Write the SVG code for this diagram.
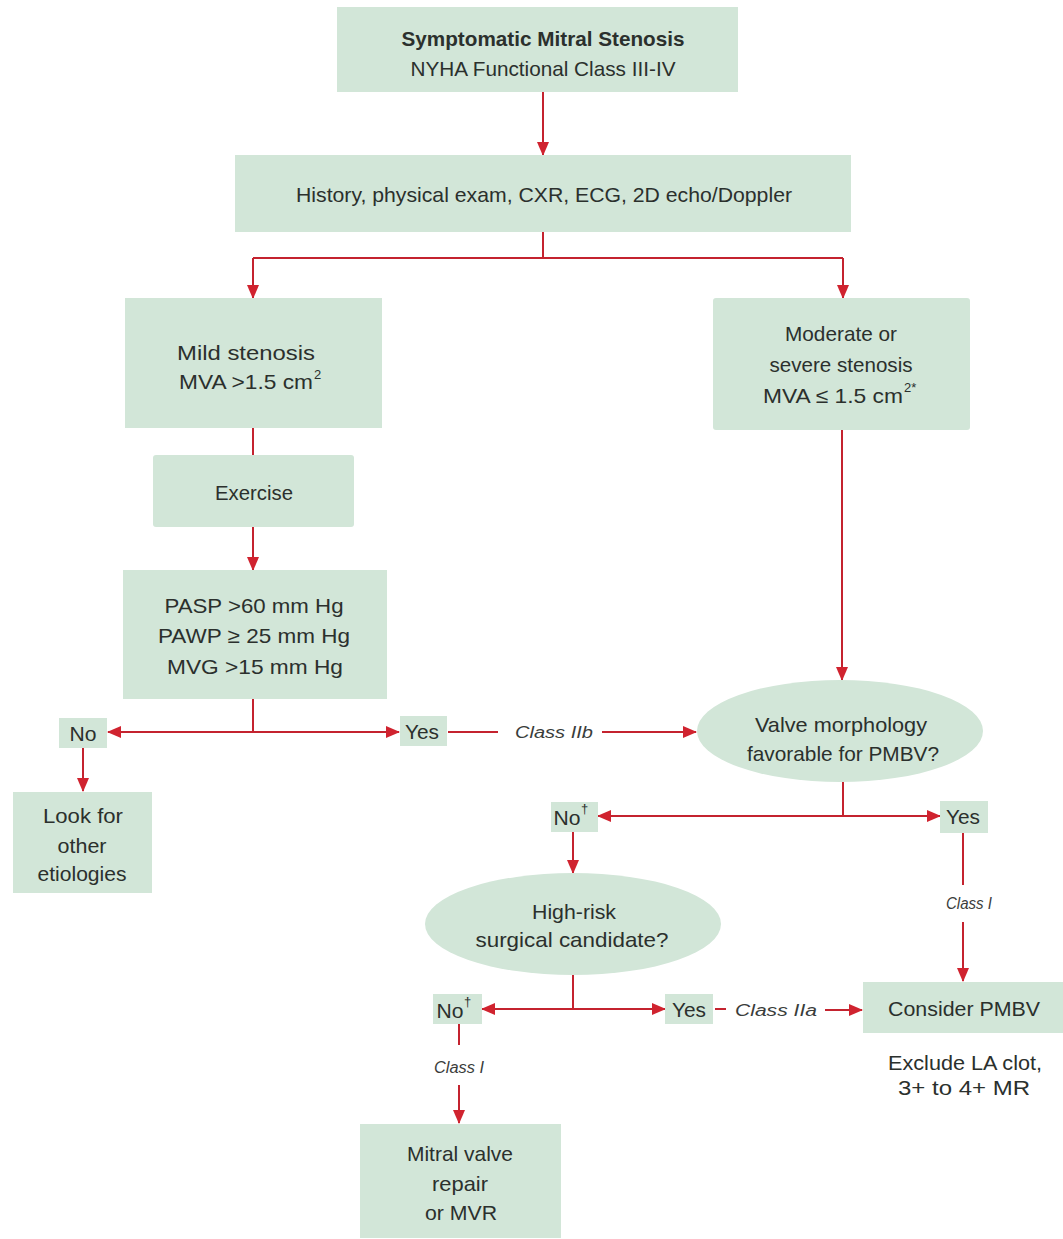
<svg xmlns="http://www.w3.org/2000/svg" width="1063" height="1239" viewBox="0 0 1063 1239">
  <style>
    .box { fill: #d2e6d8; }
    .t { font-family: "Liberation Sans", Arial, sans-serif; font-size: 21px; fill: #2b302d; text-anchor: middle; dominant-baseline: central; }
    .s { font-family: "Liberation Sans", Arial, sans-serif; font-size: 13px; fill: #2b302d; }
    .b { font-weight: bold; }
    .cls { font-family: "Liberation Sans", Arial, sans-serif; font-size: 16px; font-style: italic; fill: #3a3d3b; text-anchor: middle; dominant-baseline: central; }
    .ln { stroke: #c4232f; stroke-width: 2; fill: none; }
  </style>
  <defs>
    <marker id="arr" viewBox="0 0 14 12" refX="13" refY="6" markerWidth="14" markerHeight="12" markerUnits="userSpaceOnUse" orient="auto">
      <path d="M0,0 L14,6 L0,12 Z" fill="#d0232f"/>
    </marker>
  </defs>
  <rect width="1063" height="1239" fill="#ffffff"/>

  <!-- connectors -->
  <g id="connectors">
    <line class="ln" x1="543" y1="92" x2="543" y2="155" marker-end="url(#arr)"/>
    <line class="ln" x1="543" y1="232" x2="543" y2="258"/>
    <line class="ln" x1="253" y1="258" x2="843" y2="258"/>
    <line class="ln" x1="253" y1="258" x2="253" y2="298" marker-end="url(#arr)"/>
    <line class="ln" x1="843" y1="258" x2="843" y2="298" marker-end="url(#arr)"/>
    <line class="ln" x1="253" y1="428" x2="253" y2="455" stroke-width="1.5"/>
    <line class="ln" x1="253" y1="527" x2="253" y2="570" marker-end="url(#arr)"/>
    <line class="ln" x1="842" y1="430" x2="842" y2="680" marker-end="url(#arr)"/>
    <!-- exercise result branch -->
    <line class="ln" x1="253" y1="699" x2="253" y2="732"/>
    <line class="ln" x1="253" y1="732" x2="108" y2="732" marker-end="url(#arr)"/>
    <line class="ln" x1="253" y1="732" x2="399" y2="732" marker-end="url(#arr)"/>
    <line class="ln" x1="83" y1="748" x2="83" y2="791" marker-end="url(#arr)"/>
    <line class="ln" x1="448" y1="732" x2="498" y2="732"/>
    <line class="ln" x1="602" y1="732" x2="696" y2="732" marker-end="url(#arr)"/>
    <!-- valve morphology branch -->
    <line class="ln" x1="843" y1="782" x2="843" y2="816"/>
    <line class="ln" x1="843" y1="816" x2="598" y2="816" marker-end="url(#arr)"/>
    <line class="ln" x1="843" y1="816" x2="940" y2="816" marker-end="url(#arr)"/>
    <line class="ln" x1="573" y1="832" x2="573" y2="873" marker-end="url(#arr)"/>
    <line class="ln" x1="963" y1="833" x2="963" y2="885"/>
    <line class="ln" x1="963" y1="922" x2="963" y2="981" marker-end="url(#arr)"/>
    <!-- surgical risk branch -->
    <line class="ln" x1="573" y1="975" x2="573" y2="1009"/>
    <line class="ln" x1="573" y1="1009" x2="482" y2="1009" marker-end="url(#arr)"/>
    <line class="ln" x1="573" y1="1009" x2="665" y2="1009" marker-end="url(#arr)"/>
    <line class="ln" x1="715" y1="1009" x2="726" y2="1009"/>
    <line class="ln" x1="825" y1="1010" x2="862" y2="1010" marker-end="url(#arr)"/>
    <line class="ln" x1="459" y1="1024" x2="459" y2="1045"/>
    <line class="ln" x1="459" y1="1085" x2="459" y2="1123" marker-end="url(#arr)"/>
  </g>

  <!-- edge labels -->
  <g id="edge-labels">
    <text class="cls" x="554" y="732" textLength="78" lengthAdjust="spacingAndGlyphs">Class IIb</text>
    <text class="cls" x="969" y="903" textLength="46" lengthAdjust="spacingAndGlyphs">Class I</text>
    <text class="cls" x="776" y="1010" textLength="82" lengthAdjust="spacingAndGlyphs">Class IIa</text>
    <text class="cls" x="459" y="1067" textLength="50" lengthAdjust="spacingAndGlyphs">Class I</text>
  </g>

  <g id="start">
    <rect class="box" x="337" y="7" width="401" height="85"/>
    <text class="t b" x="543" y="38" textLength="283" lengthAdjust="spacingAndGlyphs">Symptomatic Mitral Stenosis</text>
    <text class="t" x="543" y="68" textLength="265" lengthAdjust="spacingAndGlyphs">NYHA Functional Class III-IV</text>
  </g>

  <g id="workup">
    <rect class="box" x="235" y="155" width="616" height="77"/>
    <text class="t" x="544" y="194" textLength="496" lengthAdjust="spacingAndGlyphs">History, physical exam, CXR, ECG, 2D echo/Doppler</text>
  </g>

  <g id="mild">
    <rect class="box" x="125" y="298" width="257" height="130"/>
    <text class="t" x="246" y="352" textLength="138" lengthAdjust="spacingAndGlyphs">Mild stenosis</text>
    <text class="t" x="246" y="381" textLength="134" lengthAdjust="spacingAndGlyphs">MVA &gt;1.5 cm</text>
    <text class="s" x="314" y="379">2</text>
  </g>

  <g id="moderate">
    <rect class="box" x="713" y="298" width="257" height="132" rx="3"/>
    <text class="t" x="841" y="333" textLength="112" lengthAdjust="spacingAndGlyphs">Moderate or</text>
    <text class="t" x="841" y="364" textLength="143" lengthAdjust="spacingAndGlyphs">severe stenosis</text>
    <text class="t" x="833" y="395" textLength="140" lengthAdjust="spacingAndGlyphs">MVA ≤ 1.5 cm</text>
    <text class="s" x="904" y="392">2*</text>
  </g>

  <g id="exercise">
    <rect class="box" x="153" y="455" width="201" height="72" rx="3"/>
    <text class="t" x="254" y="492" textLength="78" lengthAdjust="spacingAndGlyphs">Exercise</text>
  </g>

  <g id="hemodynamics">
    <rect class="box" x="123" y="570" width="264" height="129"/>
    <text class="t" x="254" y="605" textLength="179" lengthAdjust="spacingAndGlyphs">PASP &gt;60 mm Hg</text>
    <text class="t" x="254" y="635" textLength="192" lengthAdjust="spacingAndGlyphs">PAWP ≥ 25 mm Hg</text>
    <text class="t" x="255" y="666" textLength="176" lengthAdjust="spacingAndGlyphs">MVG &gt;15 mm Hg</text>
  </g>

  <g id="no-1">
    <rect class="box" x="59" y="718" width="48" height="30"/>
    <text class="t" x="83" y="733" textLength="27" lengthAdjust="spacingAndGlyphs">No</text>
  </g>

  <g id="yes-1">
    <rect class="box" x="400" y="716" width="47" height="30"/>
    <text class="t" x="422" y="731" textLength="34" lengthAdjust="spacingAndGlyphs">Yes</text>
  </g>

  <g id="other-etiologies">
    <rect class="box" x="13" y="792" width="139" height="101"/>
    <text class="t" x="83" y="815" textLength="80" lengthAdjust="spacingAndGlyphs">Look for</text>
    <text class="t" x="82" y="845" textLength="49" lengthAdjust="spacingAndGlyphs">other</text>
    <text class="t" x="82" y="873" textLength="89" lengthAdjust="spacingAndGlyphs">etiologies</text>
  </g>

  <g id="valve-morphology">
    <ellipse class="box" cx="840" cy="731" rx="143" ry="51"/>
    <text class="t" x="841" y="724" textLength="172" lengthAdjust="spacingAndGlyphs">Valve morphology</text>
    <text class="t" x="843" y="753" textLength="192" lengthAdjust="spacingAndGlyphs">favorable for PMBV?</text>
  </g>

  <g id="no-2">
    <rect class="box" x="551" y="802" width="47" height="30"/>
    <text class="t" x="567" y="817" textLength="27" lengthAdjust="spacingAndGlyphs">No</text>
    <text class="s" x="581" y="813">†</text>
  </g>

  <g id="yes-2">
    <rect class="box" x="940" y="801" width="48" height="32"/>
    <text class="t" x="963" y="816" textLength="34" lengthAdjust="spacingAndGlyphs">Yes</text>
  </g>

  <g id="high-risk">
    <ellipse class="box" cx="573" cy="924" rx="148" ry="51"/>
    <text class="t" x="574" y="911" textLength="84" lengthAdjust="spacingAndGlyphs">High-risk</text>
    <text class="t" x="572" y="939" textLength="193" lengthAdjust="spacingAndGlyphs">surgical candidate?</text>
  </g>

  <g id="no-3">
    <rect class="box" x="433" y="994" width="49" height="30"/>
    <text class="t" x="450" y="1010" textLength="27" lengthAdjust="spacingAndGlyphs">No</text>
    <text class="s" x="464" y="1006">†</text>
  </g>

  <g id="yes-3">
    <rect class="box" x="665" y="994" width="48" height="30"/>
    <text class="t" x="689" y="1009" textLength="34" lengthAdjust="spacingAndGlyphs">Yes</text>
  </g>

  <g id="consider-pmbv">
    <rect class="box" x="863" y="982" width="200" height="51"/>
    <text class="t" x="964" y="1008" textLength="152" lengthAdjust="spacingAndGlyphs">Consider PMBV</text>
    <text class="t" x="965" y="1062" textLength="154" lengthAdjust="spacingAndGlyphs">Exclude LA clot,</text>
    <text class="t" x="964" y="1087" textLength="132" lengthAdjust="spacingAndGlyphs">3+ to 4+ MR</text>
  </g>

  <g id="mitral-repair">
    <rect class="box" x="360" y="1124" width="201" height="114"/>
    <text class="t" x="460" y="1153" textLength="106" lengthAdjust="spacingAndGlyphs">Mitral valve</text>
    <text class="t" x="460" y="1183" textLength="56" lengthAdjust="spacingAndGlyphs">repair</text>
    <text class="t" x="461" y="1212" textLength="72" lengthAdjust="spacingAndGlyphs">or MVR</text>
  </g>
</svg>
